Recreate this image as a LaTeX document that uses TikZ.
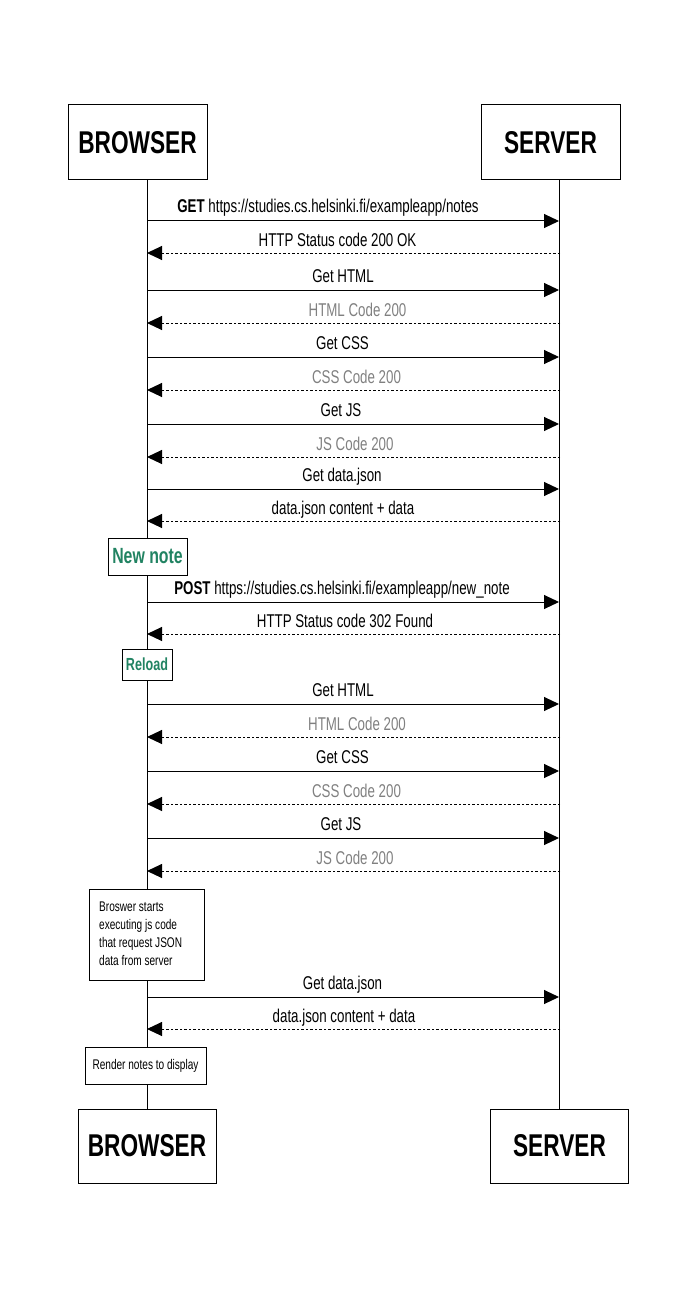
\documentclass[tikz,border=0pt]{standalone}
\usepackage{fontspec}
\setmainfont[FakeStretch=0.72]{Liberation Sans}
\usetikzlibrary{arrows.meta}
\definecolor{replygray}{RGB}{128,128,128}
\definecolor{notegreen}{RGB}{33,131,98}
\begin{document}
\begin{tikzpicture}[x=1pt,y=-1pt]
\tikzset{
  actor/.style={draw, line width=1pt, fill=white, minimum width=139pt, minimum height=75pt,
    inner sep=0pt, font=\fontsize{31.5}{34}\selectfont\bfseries},
  lifeline/.style={line width=1pt},
  msg/.style={line width=1pt, -{Triangle[length=15pt,width=14pt]}},
  reply/.style={msg, dash pattern=on 2.5pt off 2pt},
  lbl/.style={anchor=base, inner sep=0pt, font=\fontsize{18.5}{22}\selectfont},
  rlbl/.style={lbl, text=replygray},
  notebox/.style={draw, line width=1pt, fill=white, inner sep=0pt},
  statebox/.style={notebox, text=notegreen, font=\bfseries},
}
\useasboundingbox (0,0) rectangle (699,1289);

% participants
\node[actor] (btop) at (137.5,142.5) {BROWSER};
\node[actor] (stop) at (550.5,142.5) {SERVER};
\node[actor, minimum width=138pt, minimum height=74pt] (bbot) at (147,1146) {BROWSER};
\node[actor, minimum width=138pt, minimum height=74pt] (sbot) at (559.5,1146) {SERVER};

% lifelines
\draw[lifeline] (bbot.north |- btop.south) -- (bbot.north);
\draw[lifeline] (sbot.north |- stop.south) -- (sbot.north);

% requests: browser -> server
\foreach \i/\y/\x/\txt in {
  1/221/328/{\textbf{GET} https://studies.cs.helsinki.fi/exampleapp/notes},
  3/290/343/{Get HTML},
  5/357/342.5/{Get CSS},
  7/424/341/{Get JS},
  9/489/342/{Get data.json},
  11/602/342/{\textbf{POST} https://studies.cs.helsinki.fi/exampleapp/new\_note},
  13/704/343/{Get HTML},
  15/771/342.5/{Get CSS},
  17/838/341/{Get JS},
  19/997/342.5/{Get data.json}}{
  \coordinate (b\i) at (147,\y);
  \coordinate (s\i) at (559,\y);
  \draw[msg] (b\i) -- (s\i);
  \node[lbl] (t\i) at (\x,\y-8) {\txt};
}

% replies: server -> browser
\foreach \i/\y/\x/\st/\txt in {
  2/253/337.5/lbl/{HTTP Status code 200 OK},
  4/323/357.5/rlbl/{HTML Code 200},
  6/390/356.5/rlbl/{CSS Code 200},
  8/457/355/rlbl/{JS Code 200},
  10/521/343/lbl/{data.json content + data},
  12/634/345/lbl/{HTTP Status code 302 Found},
  14/737/357/rlbl/{HTML Code 200},
  16/804/356.5/rlbl/{CSS Code 200},
  18/871/355/rlbl/{JS Code 200},
  20/1029/344/lbl/{data.json content + data}}{
  \coordinate (b\i) at (147,\y);
  \coordinate (s\i) at (560,\y);
  \draw[reply] (s\i) -- (b\i);
  \node[\st] (t\i) at (\x,\y-6.5) {\txt};
}

% notes on the browser lifeline
\node[statebox, minimum width=79pt, minimum height=37pt, font=\fontsize{22}{24}\selectfont\bfseries]
  (newnote) at (147.5,556.5) {New note};
\node[statebox, minimum width=50pt, minimum height=31pt, font=\fontsize{17.5}{20}\selectfont\bfseries]
  (reload) at (147,664.5) {Reload};
\node[notebox, minimum width=115pt, minimum height=91pt] (exec) at (146.5,934.5) {};
\node[anchor=north west, inner sep=0pt, align=left, font=\fontsize{14}{18}\selectfont]
  (exectext) at (99,902) {Broswer starts\\executing js code\\that request JSON\\data from server};
\node[notebox, minimum width=121pt, minimum height=37pt, font=\fontsize{14}{16}\selectfont]
  (render) at (145.5,1065.5) {Render notes to display};
\end{tikzpicture}
\end{document}
